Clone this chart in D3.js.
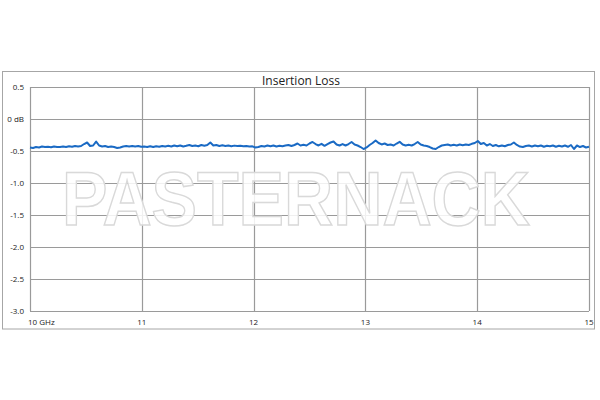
<!DOCTYPE html>
<html><head><meta charset="utf-8">
<script src="https://cdn.jsdelivr.net/npm/d3@7"></script>
<style>body{margin:0;background:#fff}svg{display:block}</style>
</head><body><svg id="c" width="600" height="400"></svg>
<script>
const title = "Insertion Loss";
const watermark = "PASTERNACK";
const yTicks = [0.5, 0, -0.5, -1.0, -1.5, -2.0, -2.5, -3.0];
const yTickLabels = ["0.5", "0 dB", "-0.5", "-1.0", "-1.5", "-2.0", "-2.5", "-3.0"];
const xTicks = [10, 11, 12, 13, 14, 15];
const xTickLabels = ["10 GHz", "11", "12", "13", "14", "15"];
const freqStart = 10, freqStop = 15;
const lossDb = [
-0.445,-0.453,-0.438,-0.445,-0.430,-0.438,-0.434,-0.441,-0.430,-0.438,
-0.438,-0.430,-0.438,-0.427,-0.434,-0.422,-0.430,-0.422,-0.391,-0.367,
-0.422,-0.414,-0.352,-0.414,-0.430,-0.422,-0.438,-0.430,-0.438,-0.453,
-0.445,-0.430,-0.422,-0.430,-0.422,-0.430,-0.422,-0.434,-0.430,-0.438,
-0.427,-0.438,-0.425,-0.434,-0.422,-0.430,-0.419,-0.430,-0.414,-0.427,
-0.414,-0.430,-0.419,-0.406,-0.422,-0.414,-0.425,-0.406,-0.419,-0.406,
-0.367,-0.414,-0.406,-0.422,-0.411,-0.422,-0.414,-0.425,-0.416,-0.422,
-0.419,-0.427,-0.422,-0.430,-0.427,-0.445,-0.438,-0.422,-0.430,-0.414,
-0.427,-0.414,-0.430,-0.419,-0.427,-0.414,-0.406,-0.422,-0.406,-0.383,
-0.414,-0.403,-0.414,-0.383,-0.359,-0.391,-0.414,-0.388,-0.419,-0.391,
-0.367,-0.352,-0.398,-0.414,-0.391,-0.414,-0.391,-0.359,-0.398,-0.414,
-0.438,-0.469,-0.445,-0.406,-0.375,-0.336,-0.375,-0.398,-0.383,-0.406,
-0.398,-0.414,-0.383,-0.356,-0.398,-0.414,-0.403,-0.414,-0.391,-0.359,
-0.398,-0.414,-0.422,-0.438,-0.461,-0.469,-0.438,-0.414,-0.406,-0.398,
-0.414,-0.403,-0.414,-0.398,-0.409,-0.398,-0.406,-0.388,-0.375,-0.344,
-0.391,-0.375,-0.414,-0.391,-0.422,-0.406,-0.427,-0.414,-0.425,-0.406,
-0.398,-0.367,-0.406,-0.430,-0.438,-0.422,-0.414,-0.430,-0.414,-0.427,
-0.414,-0.434,-0.419,-0.425,-0.414,-0.434,-0.419,-0.430,-0.414,-0.434,
-0.406,-0.469,-0.414,-0.438,-0.422,-0.445,-0.434
];
const freqs = lossDb.map((_, i) => freqStart + i * (freqStop - freqStart) / (lossDb.length - 1));

const svg = d3.select("#c");
const L = 30, R = 589, T = 87, B = 311;
const x = d3.scaleLinear().domain([freqStart, freqStop]).range([L, R]);
const y = d3.scaleLinear().domain([-3.0, 0.5]).range([B, T]);
const font = "'Open Sans', 'Liberation Sans', sans-serif";

// outer frame
svg.append("rect").attr("x", 2.5).attr("y", 71.5).attr("width", 592).attr("height", 257.5)
  .attr("fill", "#fff").attr("stroke", "#a6a6a6").attr("stroke-width", 1);

// title
svg.append("text").attr("x", 301).attr("y", 85).attr("text-anchor", "middle")
  .attr("font-family", font).attr("font-size", 12).attr("fill", "#222").text(title);

// grid
const grid = svg.append("g").attr("stroke", "#9a9a9a").attr("stroke-width", 1.2).attr("fill", "none");
yTicks.forEach(v => grid.append("line").attr("x1", L).attr("x2", R)
  .attr("y1", Math.round(y(v)) + 0.5).attr("y2", Math.round(y(v)) + 0.5));
xTicks.forEach(v => grid.append("line").attr("y1", T).attr("y2", B)
  .attr("x1", Math.round(x(v)) + 0.5).attr("x2", Math.round(x(v)) + 0.5));

// y labels
yTicks.forEach((v, i) => svg.append("text").attr("x", 24).attr("y", y(v) + 3)
  .attr("text-anchor", "end").attr("font-family", font).attr("font-size", 8)
  .attr("fill", "#222").text(yTickLabels[i]));
// x labels
xTicks.forEach((v, i) => svg.append("text").attr("x", i === 0 ? x(v) - 2 : x(v)).attr("y", 325)
  .attr("text-anchor", i === 0 ? "start" : "middle").attr("font-family", font).attr("font-size", 8)
  .attr("fill", "#222").text(xTickLabels[i]));

// watermark
svg.append("text").attr("x", 62).attr("y", 225)
  .attr("textLength", 468).attr("lengthAdjust", "spacingAndGlyphs")
  .attr("font-family", "'Liberation Sans', Arial, sans-serif").attr("font-weight", "bold")
  .attr("font-size", 76).attr("fill", "#ffffff").attr("fill-opacity", 0.85)
  .attr("stroke", "#d9d9d9").attr("stroke-width", 1.5).text(watermark);

// trace
svg.append("path").datum(lossDb)
  .attr("d", d3.line().x((d, i) => x(freqs[i])).y(d => y(d)))
  .attr("fill", "none").attr("stroke", "#1a6ac4").attr("stroke-width", 2)
  .attr("stroke-linejoin", "round");
</script></body></html>
